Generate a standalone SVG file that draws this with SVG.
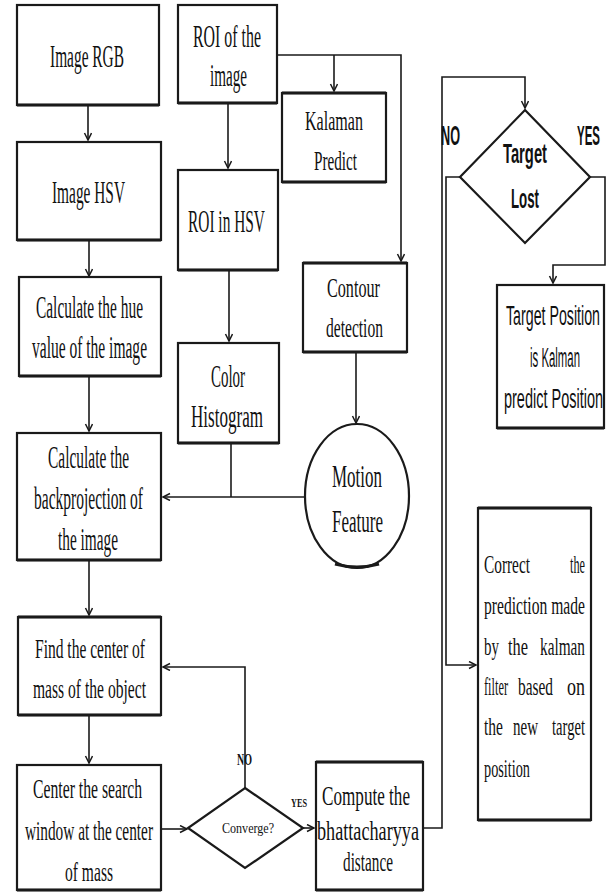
<svg xmlns="http://www.w3.org/2000/svg" width="606" height="893" viewBox="0 0 606 893">
<defs>
<style>
.box{fill:#fff;stroke:#1a1a1a;stroke-width:2.2}
.sh{stroke:#1a1a1a;stroke-width:3;fill:none}
.con{fill:none;stroke:#1a1a1a;stroke-width:1.6}
.ser{font-family:"Liberation Serif",serif;fill:#111;font-size:31px}
.sm{font-size:27px}
.cr{font-size:25px}
.san{font-family:"Liberation Sans",sans-serif;fill:#111;font-size:28px}
.b{font-weight:bold}
</style>
<marker id="ar" markerWidth="10" markerHeight="10" refX="8" refY="4" orient="auto" markerUnits="userSpaceOnUse">
<path d="M1,0.5 L8,4 L1,7.5" fill="none" stroke="#1a1a1a" stroke-width="1.5"/>
</marker>
</defs>
<rect width="606" height="893" fill="#fff"/>

<g id="connectors" class="con">
<path d="M88,105 V140" marker-end="url(#ar)"/>
<path d="M89,240 V276" marker-end="url(#ar)"/>
<path d="M89,376 V431" marker-end="url(#ar)"/>
<path d="M89,561 V615" marker-end="url(#ar)"/>
<path d="M89,716 V763" marker-end="url(#ar)"/>
<path d="M161,829 H187" marker-end="url(#ar)"/>
<path d="M303,828 H314" marker-end="url(#ar)"/>
<path d="M245,788 V667 H163" marker-end="url(#ar)"/>
<path d="M228,103 V168" marker-end="url(#ar)"/>
<path d="M277,55 H401 V261" marker-end="url(#ar)"/>
<path d="M334,55 V91" marker-end="url(#ar)"/>
<path d="M229,270 V341" marker-end="url(#ar)"/>
<path d="M231,444 V497"/>
<path d="M305,497 H163" marker-end="url(#ar)"/>
<path d="M356,352 V423" marker-end="url(#ar)"/>
<path d="M423,828 H442 V77 H525 V108" marker-end="url(#ar)"/>
<path d="M460,177 H446 V665 H476" marker-end="url(#ar)"/>
<path d="M590,177 H605 V265 H553 V283" marker-end="url(#ar)"/>
</g>

<g id="labels">
<text class="san b" transform="translate(441,145) scale(0.45,1)" textLength="42.2" lengthAdjust="spacingAndGlyphs">NO</text>
<text class="san b" transform="translate(577,145) scale(0.45,1)" textLength="51.1" lengthAdjust="spacingAndGlyphs">YES</text>
<text class="ser b" style="font-size:17px" transform="translate(237,765) scale(0.6,1)" textLength="25" lengthAdjust="spacingAndGlyphs">NO</text>
<text class="ser b" style="font-size:13px" transform="translate(291,807) scale(0.6,1)" textLength="26.7" lengthAdjust="spacingAndGlyphs">YES</text>
</g>

<g id="n-rgb">
<rect class="box" x="17" y="5" width="142" height="100"/>
<path class="sh" d="M17,105 H159"/>
<text class="ser" transform="translate(50,67) scale(0.6,1)" textLength="123.3" lengthAdjust="spacingAndGlyphs">Image RGB</text>
</g>

<g id="n-hsv">
<rect class="box" x="17" y="142" width="144" height="98"/>
<path class="sh" d="M17,240 H161"/>
<text class="ser" transform="translate(52,203) scale(0.6,1)" textLength="121.7" lengthAdjust="spacingAndGlyphs">Image HSV</text>
</g>

<g id="n-hue">
<rect class="box" x="19" y="277" width="142" height="99"/>
<path class="sh" d="M19,376 H161"/>
<text class="ser" transform="translate(36,318) scale(0.6,1)" textLength="178.3" lengthAdjust="spacingAndGlyphs">Calculate the hue</text>
<text class="ser" transform="translate(32,358) scale(0.6,1)" textLength="191.7" lengthAdjust="spacingAndGlyphs">value of the image</text>
</g>

<g id="n-back">
<rect class="box" x="17" y="433" width="144" height="127"/>
<path class="sh" d="M17,560 H161"/>
<text class="ser" transform="translate(48,468) scale(0.6,1)" textLength="135" lengthAdjust="spacingAndGlyphs">Calculate the</text>
<text class="ser" transform="translate(34,509) scale(0.6,1)" textLength="181.7" lengthAdjust="spacingAndGlyphs">backprojection of</text>
<text class="ser" transform="translate(58,550) scale(0.6,1)" textLength="100" lengthAdjust="spacingAndGlyphs">the image</text>
</g>

<g id="n-find">
<rect class="box" x="18" y="617" width="143" height="98"/>
<path class="sh" d="M18,617 H161 M18,715 H161"/>
<text class="ser sm" transform="translate(35,658) scale(0.6,1)" textLength="183.3" lengthAdjust="spacingAndGlyphs">Find the center of</text>
<text class="ser sm" transform="translate(33,698) scale(0.6,1)" textLength="188.3" lengthAdjust="spacingAndGlyphs">mass of the object</text>
</g>

<g id="n-center">
<rect class="box" x="17" y="765" width="144" height="125"/>
<path class="sh" d="M17,890 H161"/>
<text class="ser sm" transform="translate(33,798) scale(0.6,1)" textLength="181.7" lengthAdjust="spacingAndGlyphs">Center the search</text>
<text class="ser sm" transform="translate(25,840) scale(0.6,1)" textLength="213.3" lengthAdjust="spacingAndGlyphs">window at the center</text>
<text class="ser sm" transform="translate(65,881) scale(0.6,1)" textLength="80" lengthAdjust="spacingAndGlyphs">of mass</text>
</g>

<g id="n-converge">
<polygon class="box" points="245,788 303,828 245,868 188,828"/>
<text class="ser" style="font-size:14px" transform="translate(222,833) scale(0.85,1)" textLength="61.2" lengthAdjust="spacingAndGlyphs">Converge?</text>
</g>

<g id="n-compute">
<rect class="box" x="316" y="762" width="107" height="128"/>
<path class="sh" d="M316,762 H423 M316,890 H423"/>
<text class="ser sm" transform="translate(322,805) scale(0.6,1)" textLength="146.7" lengthAdjust="spacingAndGlyphs">Compute the</text>
<text class="ser sm" transform="translate(317,840) scale(0.6,1)" textLength="170" lengthAdjust="spacingAndGlyphs">bhattacharyya</text>
<text class="ser sm" transform="translate(343,871) scale(0.6,1)" textLength="83.3" lengthAdjust="spacingAndGlyphs">distance</text>
</g>

<g id="n-roi">
<rect class="box" x="178" y="5" width="99" height="98"/>
<path class="sh" d="M178,103 H277"/>
<text class="ser" transform="translate(193,47) scale(0.6,1)" textLength="113.3" lengthAdjust="spacingAndGlyphs">ROI of the</text>
<text class="ser" transform="translate(210,86) scale(0.6,1)" textLength="61.7" lengthAdjust="spacingAndGlyphs">image</text>
</g>

<g id="n-kalaman">
<rect class="box" x="282" y="93" width="104" height="89"/>
<path class="sh" d="M282,93 H386 M282,182 H386"/>
<text class="ser sm" transform="translate(305,130) scale(0.6,1)" textLength="96.7" lengthAdjust="spacingAndGlyphs">Kalaman</text>
<text class="ser sm" transform="translate(314,170) scale(0.6,1)" textLength="71.7" lengthAdjust="spacingAndGlyphs">Predict</text>
</g>

<g id="n-roihsv">
<rect class="box" x="178" y="170" width="100" height="100"/>
<path class="sh" d="M178,270 H278"/>
<text class="ser" transform="translate(188,232) scale(0.6,1)" textLength="128.3" lengthAdjust="spacingAndGlyphs">ROI in HSV</text>
</g>

<g id="n-hist">
<rect class="box" x="178" y="343" width="101" height="100"/>
<path class="sh" d="M178,443 H279"/>
<text class="ser" transform="translate(211,387) scale(0.6,1)" textLength="56.7" lengthAdjust="spacingAndGlyphs">Color</text>
<text class="ser" transform="translate(191,427) scale(0.6,1)" textLength="120" lengthAdjust="spacingAndGlyphs">Histogram</text>
</g>

<g id="n-contour">
<rect class="box" x="303" y="263" width="104" height="89"/>
<path class="sh" d="M303,263 H407 M303,352 H407"/>
<text class="ser sm" transform="translate(327,297) scale(0.6,1)" textLength="88.3" lengthAdjust="spacingAndGlyphs">Contour</text>
<text class="ser sm" transform="translate(326,337) scale(0.6,1)" textLength="95" lengthAdjust="spacingAndGlyphs">detection</text>
</g>

<g id="n-motion">
<ellipse class="box" cx="357" cy="496" rx="52" ry="72"/>
<path class="sh" d="M335,564 Q357,570 379,564"/>
<text class="ser" transform="translate(332,487) scale(0.6,1)" textLength="83.3" lengthAdjust="spacingAndGlyphs">Motion</text>
<text class="ser" transform="translate(332,532) scale(0.6,1)" textLength="85" lengthAdjust="spacingAndGlyphs">Feature</text>
</g>

<g id="n-lost">
<polygon class="box" points="525,110 590,177 525,243 460,177"/>
<text class="san b" transform="translate(503,163) scale(0.5,1)" textLength="88" lengthAdjust="spacingAndGlyphs">Target</text>
<text class="san b" transform="translate(511,208) scale(0.5,1)" textLength="56" lengthAdjust="spacingAndGlyphs">Lost</text>
</g>

<g id="n-targetpos">
<rect class="box" x="497" y="285" width="107" height="143"/>
<path class="sh" d="M497,428 H604"/>
<text class="san" transform="translate(506,325) scale(0.5,1)" textLength="188" lengthAdjust="spacingAndGlyphs">Target Position</text>
<text class="san" transform="translate(530,367) scale(0.5,1)" textLength="100" lengthAdjust="spacingAndGlyphs">is Kalman</text>
<text class="san" transform="translate(504,408) scale(0.5,1)" textLength="198" lengthAdjust="spacingAndGlyphs">predict Position</text>
</g>

<g id="n-correct">
<rect class="box" x="478" y="508" width="113" height="312"/>
<path class="sh" d="M478,508 H591 M478,820 H591"/>
<text class="ser cr" transform="translate(484,573) scale(0.7,1)" textLength="65.7" lengthAdjust="spacingAndGlyphs">Correct</text>
<text class="ser cr" transform="translate(570,573) scale(0.7,1)" textLength="21.4" lengthAdjust="spacingAndGlyphs">the</text>
<text class="ser cr" transform="translate(484,614) scale(0.7,1)" textLength="144.3" lengthAdjust="spacingAndGlyphs">prediction made</text>
<text class="ser cr" transform="translate(484,655) scale(0.7,1)" textLength="21.4" lengthAdjust="spacingAndGlyphs">by</text>
<text class="ser cr" transform="translate(508,655) scale(0.7,1)" textLength="28.6" lengthAdjust="spacingAndGlyphs">the</text>
<text class="ser cr" transform="translate(540,655) scale(0.7,1)" textLength="64.3" lengthAdjust="spacingAndGlyphs">kalman</text>
<text class="ser cr" transform="translate(484,695) scale(0.7,1)" textLength="34.3" lengthAdjust="spacingAndGlyphs">filter</text>
<text class="ser cr" transform="translate(518,695) scale(0.7,1)" textLength="50" lengthAdjust="spacingAndGlyphs">based</text>
<text class="ser cr" transform="translate(567,695) scale(0.7,1)" textLength="25.7" lengthAdjust="spacingAndGlyphs">on</text>
<text class="ser cr" transform="translate(484,735) scale(0.7,1)" textLength="27.1" lengthAdjust="spacingAndGlyphs">the</text>
<text class="ser cr" transform="translate(513,735) scale(0.7,1)" textLength="35.7" lengthAdjust="spacingAndGlyphs">new</text>
<text class="ser cr" transform="translate(552,735) scale(0.7,1)" textLength="47.1" lengthAdjust="spacingAndGlyphs">target</text>
<text class="ser cr" transform="translate(484,777) scale(0.7,1)" textLength="65.7" lengthAdjust="spacingAndGlyphs">position</text>
</g>
</svg>
